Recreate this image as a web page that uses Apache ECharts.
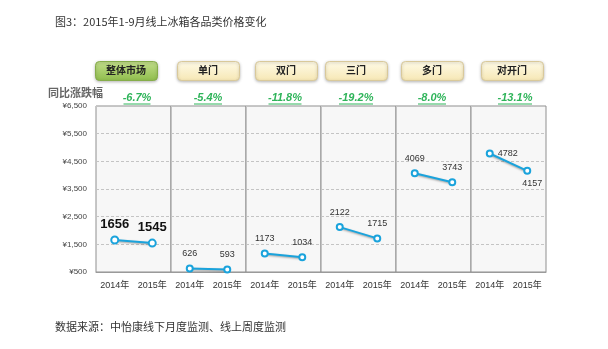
<!DOCTYPE html>
<html><head><meta charset="utf-8">
<script src="https://cdn.jsdelivr.net/npm/echarts@6/dist/echarts.min.js"></script>
<style>html,body{margin:0;padding:0;background:#fff}#c{width:608px;height:349px}</style>
</head><body><div id="c"></div>
<script>
var categories = ['整体市场','单门','双门','三门','多门','对开门'];
var changes = ['-6.7%','-5.4%','-11.8%','-19.2%','-8.0%','-13.1%'];
var years = ['2014年','2015年'];
var price2014 = [1656, 626, 1173, 2122, 4069, 4782];
var price2015 = [1545, 593, 1034, 1715, 3743, 4157];
var yMin = 500, yMax = 6500, yStep = 1000;

var FONT = '"Liberation Sans","Noto Sans CJK SC",sans-serif';
var CJK = '"Noto Sans CJK SC",sans-serif';
var chart = echarts.init(document.getElementById('c'), null, {renderer:'canvas'});

var plotLeft = 96, panelW = 75, plotTop = 106, plotH = 166;
var buttonX = [95, 177, 255, 325, 401, 481];
var buttonW = [62, 62, 62, 62, 62, 62];
var pctX = [137, 208, 285, 356, 432, 515];
var pctW = [27, 28, 33, 34, 28, 34];

var grids = [], xAxes = [], yAxes = [], series = [], graphics = [];
categories.forEach(function(cat, i){
  grids.push({left: plotLeft + i*panelW, top: plotTop, width: panelW, height: plotH,
    show: true, backgroundColor: '#f7f7f7', borderColor: '#8f8f8f', borderWidth: 1});
  xAxes.push({type:'category', gridIndex:i, data: years, boundaryGap:true,
    axisLine:{show:true, lineStyle:{color:'#9a9a9a'}}, axisTick:{show:false},
    axisLabel:{interval:0, color:'#333', fontSize:9, fontFamily:FONT, margin:9}});
  yAxes.push({type:'value', gridIndex:i, min:yMin, max:yMax, interval:yStep,
    axisLine:{show:false}, axisTick:{show:false},
    splitLine:{show:true, lineStyle:{color:'#c4c4c4', type:[3,2], width:1}},
    axisLabel:{show: i===0, color:'#444', fontSize:8, fontFamily:FONT, margin:9,
      formatter:function(v){ return '¥' + v.toLocaleString('en-US'); }}});
  var big = i === 0;
  var lbl = {show:true, position:'top', distance: big ? 5 : 6, color: big ? '#111' : '#333',
    fontSize: big ? 13 : 9, fontWeight: big ? 'bold' : 'normal', fontFamily:FONT};
  var d0 = {value: price2014[i]}, d1 = {value: price2015[i]};
  if (i === 5) {
    d0.label = {position:'right', distance:4};
    d1.label = {position:'bottom', distance:4, offset:[5,0]};
  }
  series.push({type:'line', xAxisIndex:i, yAxisIndex:i, data:[d0, d1],
    symbol:'emptyCircle', symbolSize: big ? 7 : 6,
    lineStyle:{color:'#1aa3dc', width:2, shadowColor:'rgba(0,0,0,0.35)', shadowBlur:2, shadowOffsetY:1},
    itemStyle:{color:'#1aa3dc', borderWidth:2, borderColor:'#1aa3dc'},
    label: lbl, animation:false});

  var green = i === 0;
  graphics.push({type:'rect', left: buttonX[i], top: 61, z:10,
    shape:{width: buttonW[i], height: 19, r:4},
    style:{fill: green ? new echarts.graphic.LinearGradient(0,0,0,1,[{offset:0,color:'#c3de8c'},{offset:1,color:'#8fbd4c'}])
                       : new echarts.graphic.LinearGradient(0,0,0,1,[{offset:0,color:'#fffbe8'},{offset:1,color:'#f6e7b4'}]),
      stroke: green ? '#86ad4a' : '#d9c99a', lineWidth:1,
      shadowColor:'rgba(0,0,0,0.25)', shadowBlur:3, shadowOffsetY:1}});
  graphics.push({type:'text', x: buttonX[i] + buttonW[i]/2, y: 70.5, z:11,
    style:{text: cat, fill:'#222', font:'bold 10px ' + CJK, textAlign:'center', textVerticalAlign:'middle'}});
  graphics.push({type:'text', x: pctX[i], y: 98, z:11,
    style:{text: changes[i], fill:'#2fb45a', font:'italic bold 11px ' + FONT, textAlign:'center', textVerticalAlign:'middle'}});
  graphics.push({type:'line', z:11, shape:{x1: pctX[i]-pctW[i]/2, y1:104, x2: pctX[i]+pctW[i]/2, y2:104},
    style:{stroke:'#2fb45a', lineWidth:1}});
});

graphics.push({type:'text', left: 55, top: 16,
  style:{text:'图3：2015年1-9月线上冰箱各品类价格变化', fill:'#333', font:'11px ' + CJK}});
graphics.push({type:'text', left: 48, top: 87,
  style:{text:'同比涨跌幅', fill:'#666', font:'bold 11px ' + CJK}});
graphics.push({type:'text', left: 55, top: 321,
  style:{text:'数据来源：中怡康线下月度监测、线上周度监测', fill:'#333', font:'11px ' + CJK}});

chart.setOption({
  animation:false,
  backgroundColor:'#ffffff',
  grid: grids, xAxis: xAxes, yAxis: yAxes, series: series,
  graphic: graphics
});
</script></body></html>
